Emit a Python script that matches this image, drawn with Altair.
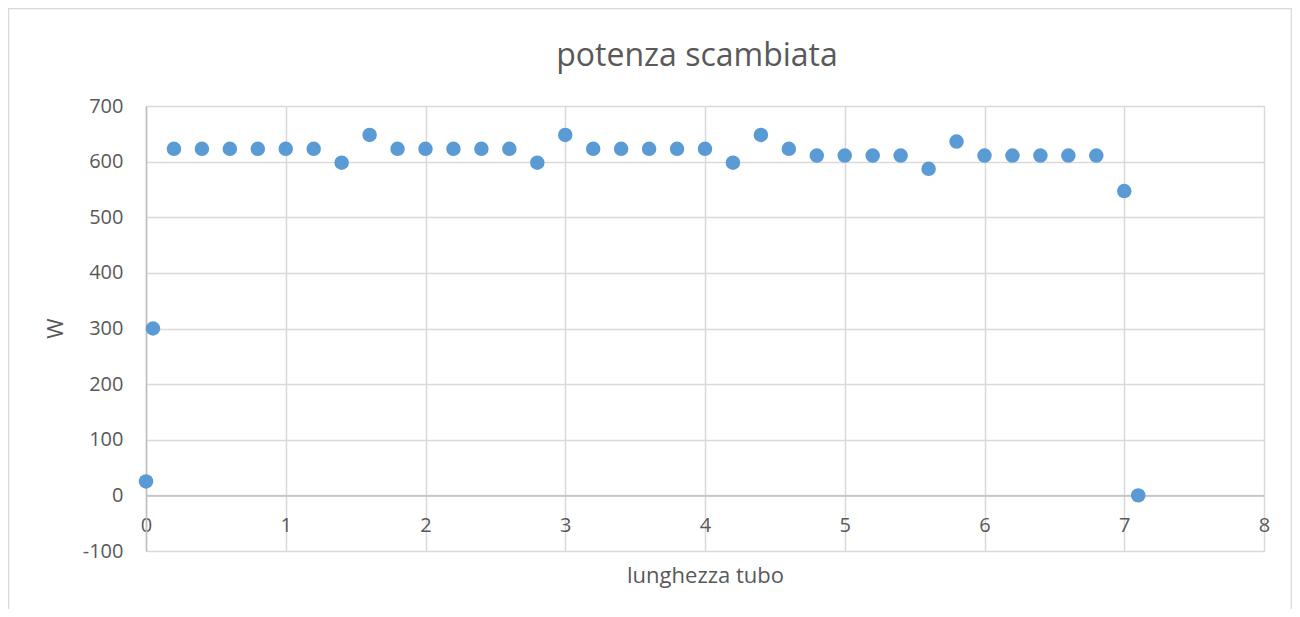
import altair as alt
import pandas as pd

lunghezza = [0, 0.05, 0.2, 0.4, 0.6, 0.8, 1.0, 1.2, 1.4, 1.6, 1.8, 2.0, 2.2, 2.4, 2.6, 2.8,
             3.0, 3.2, 3.4, 3.6, 3.8, 4.0, 4.2, 4.4, 4.6, 4.8, 5.0, 5.2, 5.4, 5.6, 5.8,
             6.0, 6.2, 6.4, 6.6, 6.8, 7.0, 7.1]
potenza = [25, 300, 623, 623, 623, 623, 623, 623, 598, 648, 623, 623, 623, 623, 623, 598,
           648, 623, 623, 623, 623, 623, 598, 648, 623, 611, 611, 611, 611, 587, 636,
           611, 611, 611, 611, 611, 547, 0]

x_ticks = list(range(0, 9))
y_ticks = list(range(-100, 701, 100))

df = pd.DataFrame({"lunghezza": lunghezza, "potenza": potenza})

FONT = "Open Sans"
TXT = "#595959"
GRID = "#d9d9d9"
AXL = "#bfbfbf"

W, H = 1118, 445
zero_offset = -H * 100 / 800

points = alt.Chart(df).mark_circle(size=210, color="#5B9BD5", opacity=1).encode(
    x=alt.X("lunghezza:Q",
            scale=alt.Scale(domain=[0, 8], nice=False, zero=False),
            axis=alt.Axis(values=x_ticks, title="lunghezza tubo", offset=zero_offset,
                          grid=True, gridColor=GRID, gridWidth=1.5,
                          domainColor=AXL, domainWidth=1.5, ticks=False,
                          labelFont=FONT, labelFontSize=20, labelColor=TXT,
                          labelPadding=30, labelBaseline="middle",
                          titleFont=FONT, titleFontSize=22, titleColor=TXT,
                          titleFontWeight="normal", titleBaseline="alphabetic",
                          titleY=87, titleX=W / 2, labelFlush=False)),
    y=alt.Y("potenza:Q",
            scale=alt.Scale(domain=[-100, 700], nice=False),
            axis=alt.Axis(values=y_ticks, title="W", grid=True, gridColor=GRID,
                          gridWidth=1.5, domainColor=AXL, domainWidth=1.5, ticks=False,
                          labelExpr="'' + datum.value",
                          labelFont=FONT, labelFontSize=20, labelColor=TXT,
                          labelPadding=23,
                          titleFont=FONT, titleFontSize=22, titleColor=TXT,
                          titleFontWeight="normal", titleBaseline="alphabetic",
                          titleAlign="center", titleAngle=270,
                          titleX=-84, titleY=222)),
)

frame = alt.Chart(pd.DataFrame({"a": [0]})).mark_rect(
    filled=False, stroke=GRID, strokeWidth=1.5, clip=False
).encode(x=alt.value(-137.5), x2=alt.value(1145.5), y=alt.value(-97.5), y2=alt.value(540))

chart = alt.layer(frame, points).properties(
    width=W, height=H,
    title=alt.TitleParams("potenza scambiata", font=FONT, fontSize=32, color=TXT,
                          fontWeight="normal", anchor="middle", frame="group",
                          offset=0, dx=-8, dy=97.5, baseline="bottom"),
    padding={"left": 138, "top": 98, "right": 28, "bottom": 58},
    autosize="none",
).configure_view(stroke=None).configure(background="white")

chart.save("out.html", embed_options={"renderer": "svg", "actions": False})
